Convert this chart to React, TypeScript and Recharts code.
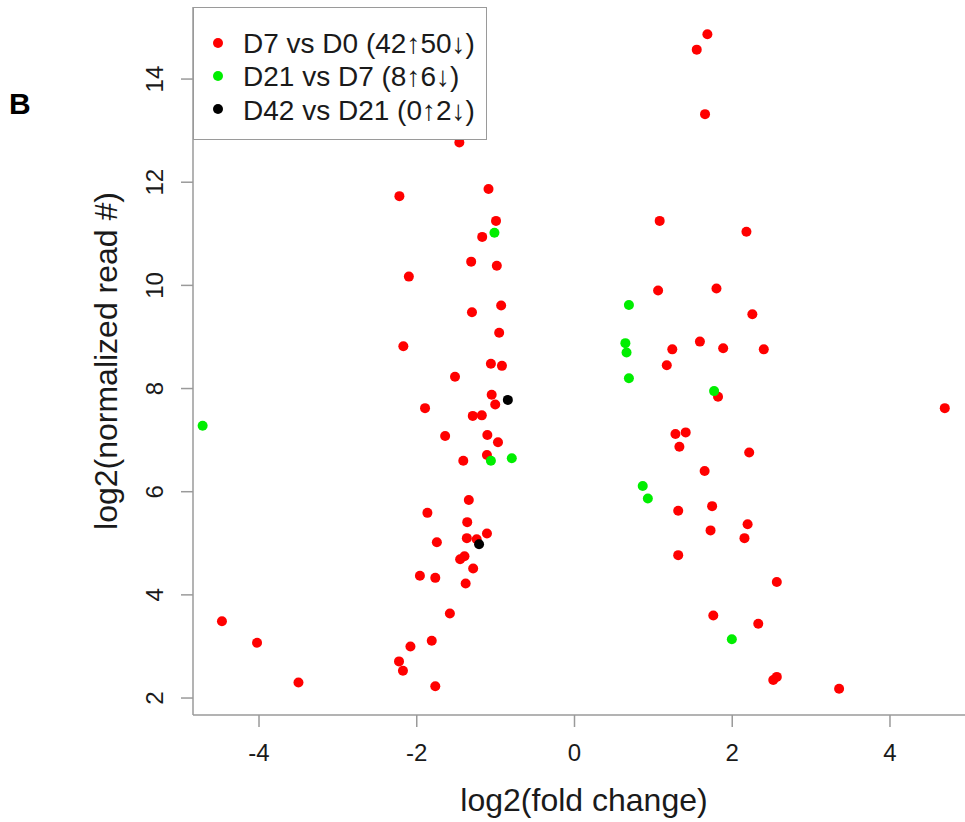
import React from 'react';
import { ScatterChart, Scatter, XAxis, YAxis, Legend } from 'recharts';

// ---- data (log2 fold change, log2 normalized read #) ----
const d7VsD0: [number, number][] = [
  [-1.46, 12.77], [-1.09, 11.87], [-2.22, 11.73], [-0.995, 11.25], [-1.17, 10.94],
  [-1.31, 10.46], [-0.985, 10.38], [-2.1, 10.17], [-0.93, 9.61], [-1.3, 9.48],
  [-0.955, 9.08], [-2.17, 8.82], [-1.06, 8.48], [-0.92, 8.44], [-1.515, 8.23],
  [-1.05, 7.88], [-1.005, 7.69], [-1.895, 7.62], [-1.29, 7.47], [-1.175, 7.48],
  [-1.64, 7.08], [-1.105, 7.1], [-0.97, 6.96], [-1.11, 6.71], [-1.41, 6.6],
  [-1.34, 5.84], [-1.865, 5.59], [-1.36, 5.41], [-1.365, 5.1], [-1.24, 5.08],
  [-1.11, 5.19], [-1.745, 5.02], [-1.395, 4.75], [-1.45, 4.69], [-1.285, 4.51],
  [-1.96, 4.37], [-1.765, 4.33], [-1.38, 4.22], [-1.58, 3.64], [-1.81, 3.11],
  [-2.08, 3.0], [-2.225, 2.71], [-2.175, 2.53], [-1.765, 2.23], [-4.47, 3.49],
  [-4.025, 3.07], [-3.5, 2.3],
  [1.685, 14.87], [1.55, 14.57], [1.655, 13.32], [1.08, 11.25], [2.18, 11.04],
  [1.06, 9.9], [1.8, 9.94], [2.255, 9.44], [1.24, 8.76], [1.59, 8.91],
  [1.885, 8.78], [2.4, 8.76], [1.17, 8.45], [1.82, 7.84], [1.28, 7.12],
  [1.41, 7.15], [1.33, 6.87], [2.215, 6.76], [1.65, 6.4], [1.315, 5.63],
  [1.745, 5.72], [1.725, 5.25], [2.195, 5.37], [2.155, 5.1], [1.315, 4.77],
  [2.565, 4.25], [1.76, 3.6], [2.33, 3.44], [4.695, 7.62], [2.52, 2.35],
  [2.565, 2.41], [3.355, 2.18],
];
const d21VsD7: [number, number][] = [
  [-4.715, 7.28], [-1.015, 11.02], [-1.06, 6.6], [-0.795, 6.65], [0.69, 9.62],
  [0.645, 8.88], [0.66, 8.7], [0.69, 8.2], [1.77, 7.95], [0.865, 6.11],
  [0.93, 5.87], [1.995, 3.14],
];
const d42VsD21: [number, number][] = [
  [-0.845, 7.78], [-1.21, 4.98],
];

const seriesNames = ['D7 vs D0 (42\u219150\u2193)', 'D21 vs D7 (8\u21916\u2193)', 'D42 vs D21 (0\u21912\u2193)'];
const seriesColors = ['#ff0000', '#00ee00', '#000000'];
const xTicks = [-4, -2, 0, 2, 4];
const yTicks = [2, 4, 6, 8, 10, 12, 14];
const xDomain: [number, number] = [-4.837, 5.078];
const yDomain: [number, number] = [1.671, 15.397];
const xTitle = 'log2(fold change)';
const yTitle = 'log2(normalized read #)';
const panelLabel = 'B';

// ---- layout ----
const CHART_W = 975;
const CHART_H = 822;
const PLOT_LEFT = 193;
const PLOT_TOP = 7;
const PLOT_BOTTOM = 715;
const FONT = '"Liberation Sans", Arial, sans-serif';
const AXIS_GRAY = '#9a9a9a';
const TEXT = '#1a1a1a';

const toPoints = (arr: [number, number][]) => arr.map(([x, y]) => ({ x, y }));

const makeDot = (color: string) => (props: any) => (
  <circle cx={props.cx} cy={props.cy} r={5} fill={color} stroke="none" />
);

const XTick = (props: any) => (
  <text x={props.x} y={761} textAnchor="middle" fontSize={24} fontFamily={FONT} fill={TEXT}>
    {String(props.payload.value)}
  </text>
);

const YTick = (props: any) => (
  <text
    x={163}
    y={props.y}
    transform={`rotate(-90 163 ${props.y})`}
    textAnchor="middle"
    fontSize={24}
    fontFamily={FONT}
    fill={TEXT}
  >
    {String(props.payload.value)}
  </text>
);

const XTitle = () => (
  <text x={(PLOT_LEFT + CHART_W) / 2} y={811} textAnchor="middle" fontSize={32} fontFamily={FONT} fill={TEXT}>
    {xTitle}
  </text>
);

const YTitle = () => {
  const cy = (PLOT_TOP + PLOT_BOTTOM) / 2;
  return (
    <text x={117} y={cy} transform={`rotate(-90 117 ${cy})`} textAnchor="middle" fontSize={32} fontFamily={FONT} fill={TEXT}>
      {yTitle}
    </text>
  );
};

const LegendBox = (props: any) => {
  const payload = [...(props.payload || [])].sort(
    (a: any, b: any) => seriesNames.indexOf(a.value) - seriesNames.indexOf(b.value)
  );
  return (
    <div
      style={{
        width: 294,
        height: 133,
        boxSizing: 'border-box',
        border: `1.5px solid ${AXIS_GRAY}`,
        background: '#fff',
      }}
    >
      <svg width={291} height={130} style={{ display: 'block' }}>
        {payload.map((p: any, i: number) => (
          <g key={i}>
            <circle cx={24} cy={35 + 33 * i} r={5} fill={p.color} />
            <text x={49} y={45 + 33.3 * i} fontSize={28} fontFamily={FONT} fill={TEXT}>
              {p.value}
            </text>
          </g>
        ))}
      </svg>
    </div>
  );
};

export default function App() {
  const series = [d7VsD0, d21VsD7, d42VsD21];
  return (
    <div
      style={{
        position: 'absolute',
        left: 0,
        top: 0,
        width: 965,
        height: 822,
        overflow: 'hidden',
        background: '#fff',
      }}
    >
      <ScatterChart width={CHART_W} height={CHART_H} margin={{ top: PLOT_TOP, right: 0, bottom: 0, left: 0 }}>
        <XAxis
          type="number"
          dataKey="x"
          domain={xDomain}
          ticks={xTicks}
          allowDataOverflow
          height={CHART_H - PLOT_BOTTOM}
          axisLine={{ stroke: AXIS_GRAY, strokeWidth: 1.5 }}
          tickLine={{ stroke: AXIS_GRAY, strokeWidth: 1.5 }}
          tickSize={12}
          tick={<XTick />}
          label={<XTitle />}
        />
        <YAxis
          type="number"
          dataKey="y"
          domain={yDomain}
          ticks={yTicks}
          allowDataOverflow
          width={PLOT_LEFT}
          axisLine={{ stroke: AXIS_GRAY, strokeWidth: 1.5 }}
          tickLine={{ stroke: AXIS_GRAY, strokeWidth: 1.5 }}
          tickSize={12}
          tick={<YTick />}
          label={<YTitle />}
        />
        <Legend
          layout="vertical"
          align="center"
          verticalAlign="middle"
          content={<LegendBox />}
          wrapperStyle={{ position: 'absolute', top: PLOT_TOP, left: PLOT_LEFT, width: 294, height: 133 }}
        />
        {series.map((s, i) => (
          <Scatter
            key={seriesNames[i]}
            name={seriesNames[i]}
            data={toPoints(s)}
            fill={seriesColors[i]}
            shape={makeDot(seriesColors[i])}
            isAnimationActive={false}
          />
        ))}
      </ScatterChart>
      <svg
        width={60}
        height={140}
        style={{ position: 'absolute', left: 0, top: 0, pointerEvents: 'none' }}
      >
        <text x={9} y={114} fontSize={30} fontWeight="bold" fontFamily={FONT} fill="#000">
          {panelLabel}
        </text>
      </svg>
    </div>
  );
}
